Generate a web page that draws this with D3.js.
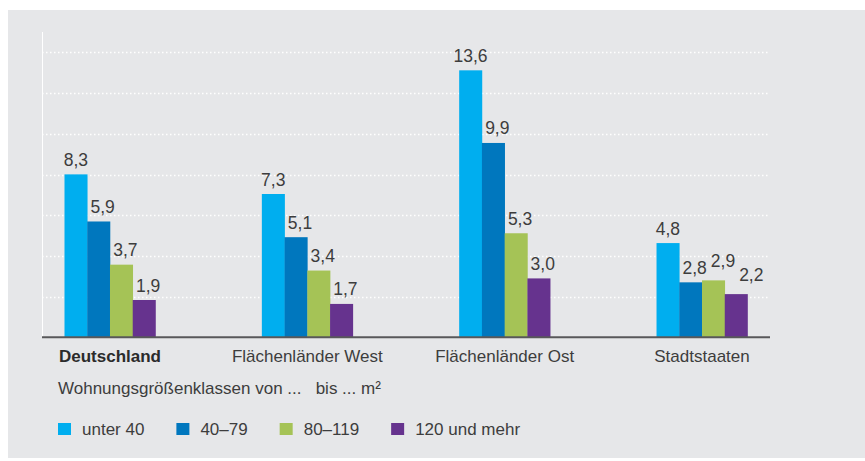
<!DOCTYPE html>
<html>
<head>
<meta charset="utf-8">
<script src="https://cdn.jsdelivr.net/npm/d3@7"></script>
<style>
  html, body { margin: 0; padding: 0; background: #ffffff; }
  svg { display: block; }
  text { font-family: "Liberation Sans", Arial, Helvetica, sans-serif; }
</style>
</head>
<body>
<svg id="chart" width="865" height="461"></svg>
<script>
// ---- data ----
const categories = ["Deutschland", "Flächenländer West", "Flächenländer Ost", "Stadtstaaten"];
const seriesNames = ["unter 40", "40\u201379", "80\u2013119", "120 und mehr"];
const unter40   = [8.3, 7.3, 13.6, 4.8];
const von40bis79  = [5.9, 5.1, 9.9, 2.8];
const von80bis119 = [3.7, 3.4, 5.3, 2.9];
const ab120     = [1.9, 1.7, 3.0, 2.2];
const gridSteps = [1, 2, 3, 4, 5, 6, 7];
const legendTitle = "Wohnungsgrößenklassen von ...\u00a0\u00a0\u00a0bis ... m²";

const seriesValues = [unter40, von40bis79, von80bis119, ab120];
const colors = ["#00aeef", "#0077be", "#a5c356", "#66338e"];

// ---- layout ----
const svg = d3.select("#chart");
const W = 865, H = 461;
const plotLeft = 42, plotRight = 770, baseY = 337.3, topY = 32;

// background panel
svg.append("rect").attr("x", 8).attr("y", 10).attr("width", W - 8).attr("height", 448)
  .attr("fill", "#e6e7e9");

const x0 = d3.scaleBand().domain(categories).range([plotLeft, plotRight])
  .paddingInner(0.539).paddingOuter(0.114);
const x1 = d3.scaleBand().domain(d3.range(seriesNames.length)).range([0, x0.bandwidth()]).padding(0);
const y = d3.scaleLinear().domain([0, 15]).range([baseY, baseY - 15 * 19.63]);
const yGrid = d3.scaleLinear().domain([0, 7]).range([baseY, 52.4]);

// gridlines
svg.append("g").selectAll("line").data(gridSteps).join("line")
  .attr("x1", plotLeft).attr("x2", plotRight)
  .attr("y1", d => Math.round(yGrid(d)) + 0.5).attr("y2", d => Math.round(yGrid(d)) + 0.5)
  .attr("stroke", "#ffffff").attr("stroke-width", 1.5)
  .attr("stroke-dasharray", "1.5,2.5");

// y axis line (white)
svg.append("line").attr("x1", plotLeft + 0.5).attr("x2", plotLeft + 0.5)
  .attr("y1", topY).attr("y2", baseY).attr("stroke", "#ffffff").attr("stroke-width", 1);

// bars
const rows = [];
categories.forEach((c, ci) => {
  seriesValues.forEach((arr, si) => rows.push({ c, ci, si, v: arr[ci] }));
});

svg.append("g").selectAll("rect").data(rows).join("rect")
  .attr("x", d => x0(d.c) + x1(d.si))
  .attr("width", x1.bandwidth() + 0.3)
  .attr("y", d => y(d.v))
  .attr("height", d => baseY - y(d.v))
  .attr("fill", d => colors[d.si]);

// baseline
svg.append("line").attr("x1", plotLeft).attr("x2", plotRight)
  .attr("y1", baseY).attr("y2", baseY).attr("stroke", "#58585a").attr("stroke-width", 2);

// value labels with simple collision avoidance
const fmt = v => d3.format(".1f")(v).replace(".", ",");
const labelG = svg.append("g");
categories.forEach((c, ci) => {
  let prev = null;
  seriesValues.forEach((arr, si) => {
    const v = arr[ci];
    const cx = x0(c) + x1(si) + x1.bandwidth() / 2 + (si > 0 ? 4 : 0);
    const by = y(v) - 8.5;
    const t = labelG.append("text")
      .attr("x", cx).attr("y", by)
      .attr("text-anchor", "middle")
      .attr("font-size", 17.5).attr("fill", "#3d3d3d")
      .text(fmt(v));
    let bb = t.node().getBBox();
    if (prev) {
      const vOverlap = bb.y < prev.y + prev.height && bb.y + bb.height > prev.y;
      const gap = 4;
      if (vOverlap && bb.x < prev.x + prev.width + gap) {
        const shift = prev.x + prev.width + gap - bb.x;
        t.attr("x", cx + shift).attr("y", by - 5);
        bb = t.node().getBBox();
      }
    }
    prev = bb;
  });
});

// category labels
svg.append("g").selectAll("text").data(categories).join("text")
  .attr("x", d => x0(d) + x0.bandwidth() / 2)
  .attr("y", 362)
  .attr("text-anchor", "middle")
  .attr("font-size", 17)
  .attr("font-weight", (d, i) => i === 0 ? "bold" : "normal")
  .attr("fill", d => d === categories[0] ? "#2b2b2b" : "#3d3d3d")
  .text(d => d);

// legend title
svg.append("text").attr("x", 58).attr("y", 394)
  .attr("font-size", 17).attr("fill", "#3d3d3d")
  .text(legendTitle);

// legend
const legend = svg.append("g");
let lx = 58;
seriesNames.forEach((name, i) => {
  legend.append("rect").attr("x", lx).attr("y", 423).attr("width", 13).attr("height", 12)
    .attr("fill", colors[i]);
  const t = legend.append("text").attr("x", lx + 24).attr("y", 435)
    .attr("font-size", 17).attr("fill", "#3d3d3d").text(name);
  lx = lx + 24 + t.node().getComputedTextLength() + 32;
});
</script>
</body>
</html>
